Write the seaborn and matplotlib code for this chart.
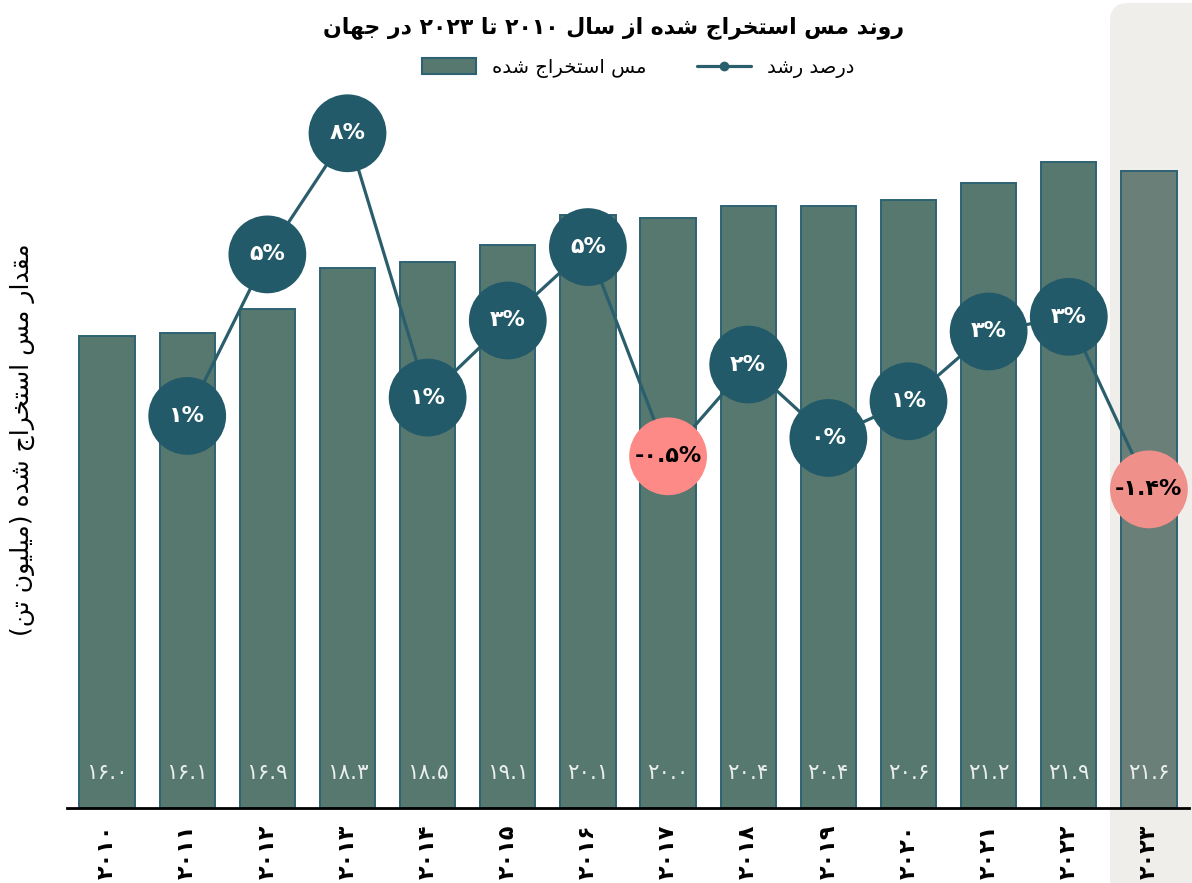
import re
import numpy as np
import pandas as pd
import seaborn as sns
import matplotlib
matplotlib.use("Agg")
import matplotlib.pyplot as plt
from matplotlib.patches import FancyBboxPatch, Patch
from matplotlib.lines import Line2D

# data
years = ['۲۰۱۰', '۲۰۱۱', '۲۰۱۲', '۲۰۱۳', '۲۰۱۴', '۲۰۱۵', '۲۰۱۶',
         '۲۰۱۷', '۲۰۱۸', '۲۰۱۹', '۲۰۲۰', '۲۰۲۱', '۲۰۲۲', '۲۰۲۳']
copper = [16.0, 16.1, 16.9, 18.3, 18.5, 19.1, 20.1, 20.0, 20.4, 20.4, 20.6, 21.2, 21.9, 21.6]
copper_labels = ['۱۶.۰', '۱۶.۱', '۱۶.۹', '۱۸.۳', '۱۸.۵', '۱۹.۱', '۲۰.۱',
                 '۲۰.۰', '۲۰.۴', '۲۰.۴', '۲۰.۶', '۲۱.۲', '۲۱.۹', '۲۱.۶']
growth_years = years[1:]
growth = [0.6, 5.0, 8.3, 1.1, 3.2, 5.2, -0.5, 2.0, 0.0, 1.0, 2.9, 3.3, -1.4]
growth_labels = ['۱%', '۵%', '۸%', '۱%', '۳%', '۵%', '-۰.۵%',
                 '۲%', '۰%', '۱%', '۳%', '۳%', '-۱.۴%']

title = 'روند مس استخراج شده از سال ۲۰۱۰ تا ۲۰۲۳ در جهان'
ylabel = 'مقدار مس استخراج شده (میلیون تن)'
bar_name = 'مس استخراج شده'
line_name = 'درصد رشد'

# minimal persian shaping (matplotlib has no bidi / joining)
FORMS = {
    'ا': ('\uFE8D', '\uFE8E', None, None),
    'ت': ('\uFE95', '\uFE96', '\uFE97', '\uFE98'),
    'ج': ('\uFE9D', '\uFE9E', '\uFE9F', '\uFEA0'),
    'خ': ('\uFEA5', '\uFEA6', '\uFEA7', '\uFEA8'),
    'د': ('\uFEA9', '\uFEAA', None, None),
    'ر': ('\uFEAD', '\uFEAE', None, None),
    'ز': ('\uFEAF', '\uFEB0', None, None),
    'س': ('\uFEB1', '\uFEB2', '\uFEB3', '\uFEB4'),
    'ش': ('\uFEB5', '\uFEB6', '\uFEB7', '\uFEB8'),
    'ص': ('\uFEB9', '\uFEBA', '\uFEBB', '\uFEBC'),
    'ق': ('\uFED5', '\uFED6', '\uFED7', '\uFED8'),
    'ل': ('\uFEDD', '\uFEDE', '\uFEDF', '\uFEE0'),
    'م': ('\uFEE1', '\uFEE2', '\uFEE3', '\uFEE4'),
    'ن': ('\uFEE5', '\uFEE6', '\uFEE7', '\uFEE8'),
    'ه': ('\uFEE9', '\uFEEA', '\uFEEB', '\uFEEC'),
    'و': ('\uFEED', '\uFEEE', None, None),
    'ی': ('\uFBFC', '\uFBFD', '\uFBFE', '\uFBFF'),
}
NUM = '\u06F0-\u06F90-9.%'


def joins_next(c):
    return c in FORMS and FORMS[c][2] is not None


def fa(text):
    chars = list(text)
    n = len(chars)
    out = []
    i = 0
    while i < n:
        c = chars[i]
        if c not in FORMS:
            out.append(c)
            i += 1
            continue
        prev = chars[i - 1] if i > 0 else ''
        nxt = chars[i + 1] if i + 1 < n else ''
        jp = joins_next(prev)
        if c == 'ل' and nxt == 'ا':
            out.append('\uFEFC' if jp else '\uFEFB')
            i += 2
            continue
        jn = joins_next(c) and nxt in FORMS
        iso, fin, ini, med = FORMS[c]
        if jp and jn:
            out.append(med)
        elif jp:
            out.append(fin)
        elif jn:
            out.append(ini)
        else:
            out.append(iso)
        i += 1
    shaped = ''.join(out)
    runs = re.findall(f'[{NUM}]+|[^{NUM}]+', shaped)
    vis = []
    for r in reversed(runs):
        if re.match(f'[{NUM}]', r):
            vis.append(r)
        else:
            vis.append(r[::-1].translate(str.maketrans('()', ')(')))
    return ''.join(vis)


# colours
bar_col = '#56786f'
bar_last = '#6a7f78'
bar_edge = '#2e6273'
dark = '#225a69'
line_col = '#2b5e6c'
pink = '#fd8a86'
pink_last = '#f0908b'

sns.set_style("white")
plt.rcParams['font.family'] = ['DejaVu Sans']
plt.rcParams['text.color'] = 'black'
plt.rcParams['xtick.color'] = 'black'

df = pd.DataFrame({'year': years, 'copper': copper})
pos = {y: i for i, y in enumerate(years)}
gx = [pos[y] for y in growth_years]

fig = plt.figure(figsize=(11.92, 8.83), dpi=100)

# highlight band behind 2023
band = FancyBboxPatch((11.10, -0.2), 1.0, 9.0, boxstyle="round,pad=0,rounding_size=0.18",
                      transform=fig.dpi_scale_trans, facecolor='#efeeeb', edgecolor='none', zorder=-1)
fig.patches.append(band)

ax = fig.add_axes([67 / 1192, 75 / 883, 1122 / 1192, 808 / 883])
ax.patch.set_visible(False)

sns.barplot(data=df, x='year', y='copper', hue='year',
            palette=[bar_col] * 13 + [bar_last], saturation=1, width=0.69,
            edgecolor=bar_edge, linewidth=1.4, legend=False, ax=ax)
ax.set_ylim(0, 27.39)
ax.set_xlim(-0.5, 13.5)
for i, lab in enumerate(copper_labels):
    ax.text(i, 1.2, lab, ha='center', va='center', color='#e9eeec', fontsize=15.5)

ax.set_xticks(range(len(years)))
ax.set_xticklabels(years, rotation=90, fontsize=16, fontweight='bold')
ax.set_xticks(np.arange(-0.5, 14, 1), minor=True)
ax.tick_params(axis='x', which='major', length=0, pad=12)
ax.tick_params(axis='x', which='minor', length=7, width=2, color='black', direction='out')
ax.set_yticks([])
ax.set_xlabel('')
ax.set_ylabel('')
for s in ['top', 'right', 'left']:
    ax.spines[s].set_visible(False)
ax.spines['bottom'].set_linewidth(2)
ax.spines['bottom'].set_color('black')

ax2 = ax.twinx()
sns.lineplot(x=gx, y=growth, ax=ax2, color=line_col, linewidth=2.3)
circ_cols = [pink if g == -0.5 else pink_last if g == -1.4 else dark for g in growth]
ax2.scatter(gx, growth, s=56 ** 2, c=circ_cols, linewidths=0, zorder=3)
for x, g, lab in zip(gx, growth, growth_labels):
    ax2.text(x, g, lab, ha='center', va='center', fontsize=16, fontweight='bold',
             color='black' if g < 0 else 'white', zorder=4)
ax2.set_ylim(-10.08, 11.93)
ax2.set_yticks([])
ax2.set_ylabel('')
for s in ax2.spines.values():
    s.set_visible(False)

fig.text(614 / 1192, 1 - 28 / 883, fa(title), ha='center', va='center',
         fontsize=15.8, fontweight='bold')
fig.text(22 / 1192, 1 - 440 / 883, fa(ylabel), ha='center', va='center',
         rotation=90, fontsize=18)

handles = [Patch(facecolor=bar_col, edgecolor=bar_edge, linewidth=1.5),
           Line2D([0], [0], color=line_col, linewidth=2.3, marker='o', markersize=6)]
fig.legend(handles, [fa(bar_name), fa(line_name)], loc='center',
           bbox_to_anchor=(638 / 1192, 1 - 68 / 883), ncol=2, frameon=False,
           fontsize=14, handlelength=2.8, handleheight=0.9, columnspacing=2.6,
           handletextpad=0.8)

fig.savefig('out.png', dpi=100)
